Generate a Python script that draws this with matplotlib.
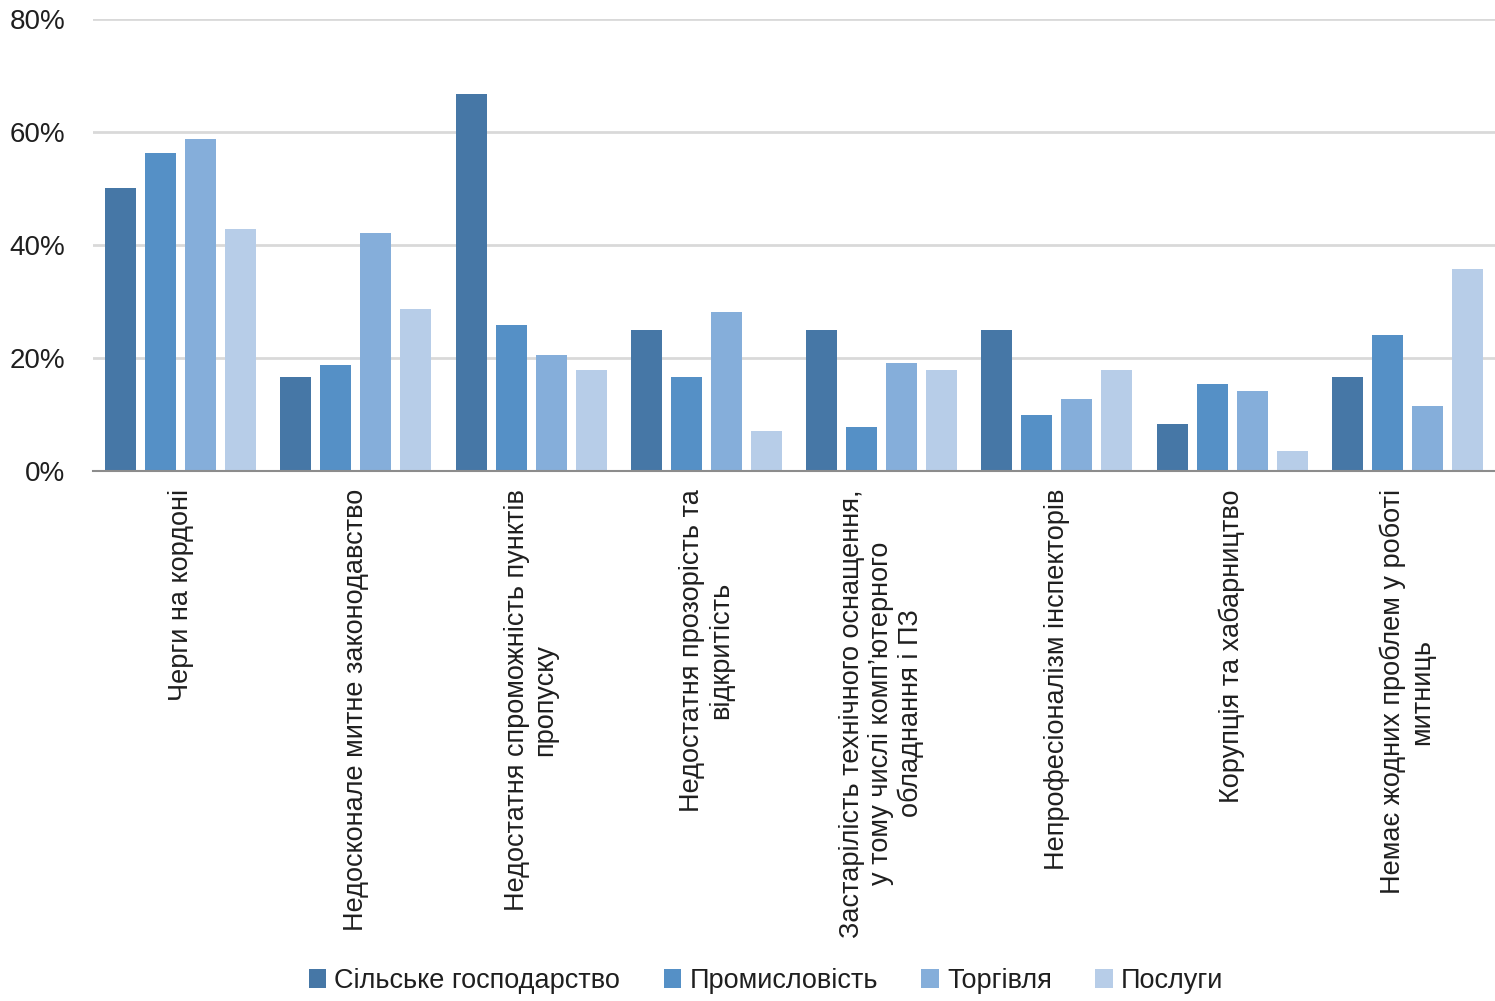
import matplotlib
matplotlib.use("Agg")
import matplotlib.pyplot as plt
import numpy as np
from matplotlib.ticker import FuncFormatter

categories = [
    "Черги на кордоні",
    "Недосконале митне законодавство",
    "Недостатня спроможність пунктів\nпропуску",
    "Недостатня прозорість та\nвідкритість",
    "Застарілість технічного оснащення,\nу тому числі комп’ютерного\nобладнання і ПЗ",
    "Непрофесіоналізм інспекторів",
    "Корупція та хабарництво",
    "Немає жодних проблем у роботі\nмитниць",
]
series_names = ["Сільське господарство", "Промисловість", "Торгівля", "Послуги"]
agriculture = [50.0, 16.7, 66.7, 25.0, 25.0, 25.0, 8.3, 16.7]
industry = [56.3, 18.8, 25.8, 16.7, 7.8, 10.0, 15.4, 24.1]
trade = [58.8, 42.1, 20.5, 28.2, 19.2, 12.8, 14.1, 11.5]
services = [42.9, 28.6, 17.9, 7.1, 17.9, 17.9, 3.6, 35.7]
yticks = [0, 20, 40, 60, 80]

colors = ["#4677A6", "#5590C6", "#85AEDA", "#B7CDE8"]
plt.rcParams['font.family'] = ['Liberation Sans', 'DejaVu Sans']

fig = plt.figure(figsize=(14.95, 10.01), dpi=100)
ax = fig.add_axes([93/1495, 1-471/1001, 1-93/1495, (471-19)/1001])

x = np.arange(len(categories))
step = 40/175
width = 31/175
data = [agriculture, industry, trade, services]
for i, (vals, name, c) in enumerate(zip(data, series_names, colors)):
    ax.bar(x + (i - 1.5) * step, vals, width=width, color=c, label=name, zorder=3)

ax.set_xlim(-0.5, len(categories) - 0.5)
ax.set_ylim(0, 80)
ax.set_yticks(yticks)
ax.yaxis.set_major_formatter(FuncFormatter(lambda v, p: f"{int(v)}%"))
ax.grid(axis='y', color='#D9D9D9', linewidth=2, zorder=0)
for s in ['top', 'right', 'left']:
    ax.spines[s].set_visible(False)
ax.spines['bottom'].set_color('#8C8C8C')
ax.spines['bottom'].set_linewidth(1.5)
ax.spines['bottom'].set_zorder(4)
ax.tick_params(axis='both', length=0, colors='#1F1F1F')
ax.tick_params(axis='y', pad=20, labelsize=20)
ax.set_xticks(x)
ax.set_xticklabels(categories, rotation=90, ha='center', va='top',
                   multialignment='center', fontsize=19.5, linespacing=1.15)
ax.tick_params(axis='x', pad=13)

leg = fig.legend(loc='center', bbox_to_anchor=(766/1495, 1-981/1001), ncol=4,
                 frameon=False, fontsize=19.5, handlelength=0.65, handleheight=0.65,
                 handletextpad=0.3, columnspacing=1.6)
for t in leg.get_texts():
    t.set_color('#1F1F1F')

fig.savefig("out.png", dpi=100)
